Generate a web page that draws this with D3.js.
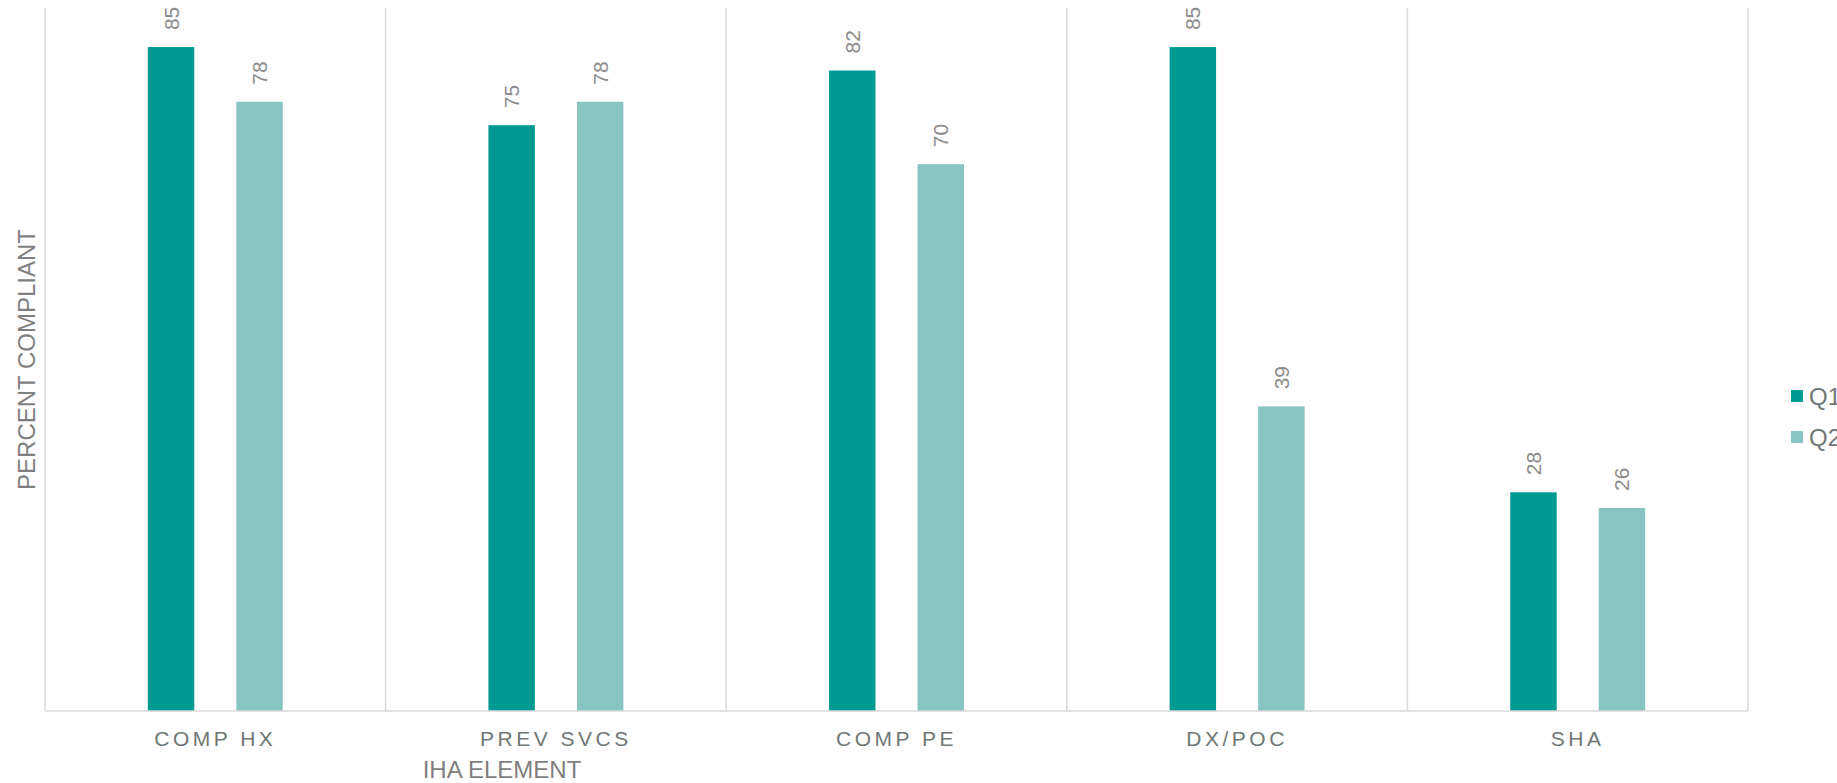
<!DOCTYPE html>
<html>
<head>
<meta charset="utf-8">
<script src="https://cdn.jsdelivr.net/npm/d3@7"></script>
<style>
  html, body { margin: 0; padding: 0; background: #ffffff; }
  svg { display: block; font-family: "Liberation Sans", Arial, sans-serif; }
</style>
</head>
<body>
<svg id="chart" width="1837" height="783"></svg>
<script>
// IHA element compliance, quarter over quarter
const categories = ["COMP HX", "PREV SVCS", "COMP PE", "DX/POC", "SHA"];
const seriesNames = ["Q1", "Q2"];
const q1Values = [85, 75, 82, 85, 28];
const q2Values = [78, 78, 70, 39, 26];
const yDomain = [0, 90];
const xAxisTitle = "IHA ELEMENT";
const yAxisTitle = "PERCENT COMPLIANT";

const colors = { Q1: "#009a93", Q2: "#88c5c1" };
const seriesValues = { Q1: q1Values, Q2: q2Values };

const svg = d3.select("#chart");
const plot = { left: 45, right: 1748, top: 8, bottom: 711 };

const x = d3.scaleBand()
  .domain(categories)
  .range([plot.left, plot.right])
  .paddingInner(0)
  .paddingOuter(0);

const xSub = d3.scaleBand()
  .domain(seriesNames)
  .range([0, x.bandwidth()])
  .paddingInner(0.475)
  .paddingOuter(1.162);

const y = d3.scaleLinear()
  .domain(yDomain)
  .range([plot.bottom, plot.top]);

const gridColor = "#d9d9d9";

// category dividers and plot frame sides
const dividers = categories.map(c => x(c)).concat([plot.right]);
svg.append("g")
  .selectAll("line")
  .data(dividers)
  .join("line")
  .attr("x1", d => d).attr("x2", d => d)
  .attr("y1", plot.top).attr("y2", plot.bottom)
  .attr("stroke", gridColor)
  .attr("stroke-width", 1.5);

// bars
const rows = [];
categories.forEach((c, i) => {
  seriesNames.forEach(s => rows.push({ cat: c, series: s, value: seriesValues[s][i] }));
});

svg.append("g")
  .selectAll("rect")
  .data(rows)
  .join("rect")
  .attr("x", d => x(d.cat) + xSub(d.series))
  .attr("width", xSub.bandwidth())
  .attr("y", d => y(d.value))
  .attr("height", d => y(0) - y(d.value))
  .attr("fill", d => colors[d.series]);

// baseline
svg.append("line")
  .attr("x1", plot.left).attr("x2", plot.right)
  .attr("y1", plot.bottom).attr("y2", plot.bottom)
  .attr("stroke", gridColor)
  .attr("stroke-width", 1.5);

// rotated value labels above the bars
svg.append("g")
  .selectAll("text")
  .data(rows)
  .join("text")
  .attr("transform", d => {
    const cx = x(d.cat) + xSub(d.series) + xSub.bandwidth() / 2;
    const cy = y(d.value) - 17;
    return `translate(${cx},${cy}) rotate(-90)`;
  })
  .attr("text-anchor", "start")
  .attr("dominant-baseline", "central")
  .attr("font-size", 21)
  .attr("fill", "#8c8c8c")
  .text(d => d.value);

// category axis labels
const xAxis = d3.axisBottom(x).tickSize(0).tickPadding(0);
const xg = svg.append("g")
  .attr("transform", `translate(0,${plot.bottom})`)
  .call(xAxis);
xg.select(".domain").remove();
xg.selectAll("text")
  .attr("y", 35)
  .attr("dy", 0)
  .attr("font-family", "'Liberation Sans', Arial, sans-serif")
  .attr("font-size", 21)
  .attr("letter-spacing", "3.5px")
  .attr("fill", "#6f7775");

// axis titles
svg.append("text")
  .attr("x", 502)
  .attr("y", 778)
  .attr("text-anchor", "middle")
  .attr("font-size", 24)
  .attr("fill", "#7f7f7f")
  .text(xAxisTitle);

svg.append("text")
  .attr("transform", `translate(26,${(plot.top + plot.bottom) / 2}) rotate(-90)`)
  .attr("text-anchor", "middle")
  .attr("dominant-baseline", "central")
  .attr("font-size", 24)
  .attr("fill", "#7f7f7f")
  .text(yAxisTitle);

// legend
const legend = svg.append("g")
  .selectAll("g")
  .data(seriesNames)
  .join("g")
  .attr("transform", (d, i) => `translate(1791,${390 + i * 41})`);
legend.append("rect")
  .attr("width", 12).attr("height", 12)
  .attr("fill", d => colors[d]);
legend.append("text")
  .attr("x", 18)
  .attr("y", 6)
  .attr("dominant-baseline", "central")
  .attr("font-size", 24)
  .attr("fill", "#6f7775")
  .text(d => d);
</script>
</body>
</html>
